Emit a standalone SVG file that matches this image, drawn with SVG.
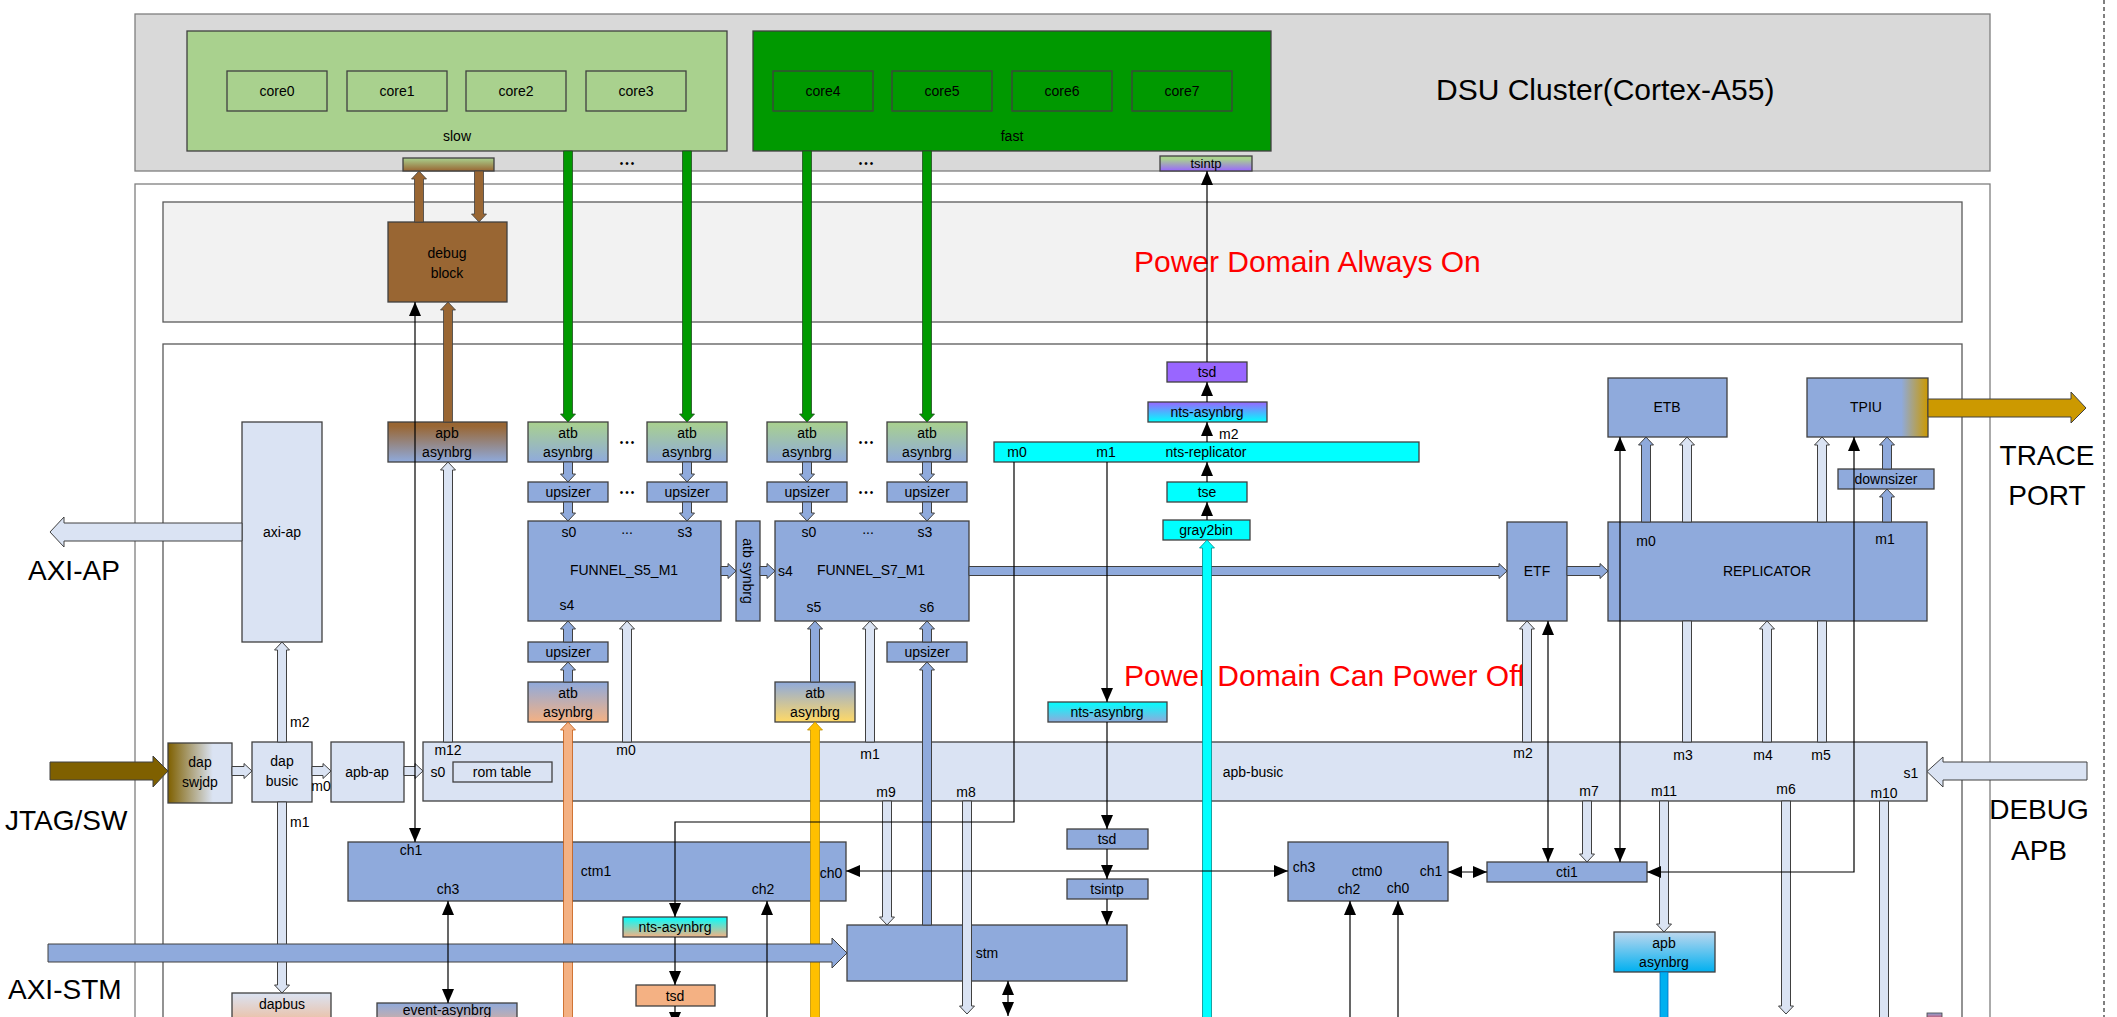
<svg xmlns="http://www.w3.org/2000/svg" width="2117" height="1017" viewBox="0 0 2117 1017">
<defs>
<linearGradient id="gDbgBar" x1="0" y1="0" x2="0" y2="1"><stop offset="0" stop-color="#a9d18e"/><stop offset="1" stop-color="#996633"/></linearGradient>
<linearGradient id="gTsTop" x1="0" y1="0" x2="0" y2="1"><stop offset="0.2" stop-color="#a9d18e"/><stop offset="1" stop-color="#9966ff"/></linearGradient>
<linearGradient id="gApbBr" x1="0" y1="0" x2="0" y2="1"><stop offset="0.1" stop-color="#996633"/><stop offset="1" stop-color="#8faadc"/></linearGradient>
<linearGradient id="gAtbG" x1="0" y1="0" x2="0" y2="1"><stop offset="0" stop-color="#a9d18e"/><stop offset="1" stop-color="#8faadc"/></linearGradient>
<linearGradient id="gNtsP" x1="0" y1="0" x2="0" y2="1"><stop offset="0" stop-color="#9966ff"/><stop offset="1" stop-color="#00ffff"/></linearGradient>
<linearGradient id="gTpiu" x1="0" y1="0" x2="1" y2="0"><stop offset="0.78" stop-color="#8faadc"/><stop offset="1" stop-color="#cc9900"/></linearGradient>
<linearGradient id="gSwj" x1="0" y1="0" x2="1" y2="0"><stop offset="0" stop-color="#7f6000"/><stop offset="0.7" stop-color="#dae3f3"/></linearGradient>
<linearGradient id="gOr" x1="0" y1="0" x2="0" y2="1"><stop offset="0" stop-color="#8faadc"/><stop offset="1" stop-color="#f4b183"/></linearGradient>
<linearGradient id="gYe" x1="0" y1="0" x2="0" y2="1"><stop offset="0" stop-color="#8faadc"/><stop offset="1" stop-color="#ffd966"/></linearGradient>
<linearGradient id="gDapbus" x1="0" y1="0" x2="0" y2="1"><stop offset="0" stop-color="#dae3f3"/><stop offset="1" stop-color="#f4b183"/></linearGradient>
<linearGradient id="gNtsCP" x1="0" y1="0" x2="0" y2="1"><stop offset="0" stop-color="#00ffff"/><stop offset="1" stop-color="#f4b183"/></linearGradient>
<linearGradient id="gNtsCB" x1="0" y1="0" x2="0" y2="1"><stop offset="0" stop-color="#00ffff"/><stop offset="1" stop-color="#8faadc"/></linearGradient>
<linearGradient id="gApbB" x1="0" y1="0" x2="0" y2="1"><stop offset="0" stop-color="#bdd7ee"/><stop offset="1" stop-color="#00b0f0"/></linearGradient>
<linearGradient id="gRed" x1="0" y1="0" x2="0" y2="1"><stop offset="0" stop-color="#8faadc"/><stop offset="1" stop-color="#ff0000"/></linearGradient>
<marker id="ah" viewBox="0 0 14 12" refX="14" refY="6" markerWidth="14" markerHeight="12" markerUnits="userSpaceOnUse" orient="auto-start-reverse"><path d="M0,0 L14,6 L0,12 z" fill="#000"/></marker>
</defs>
<style>
text{font-family:"Liberation Sans",Arial,sans-serif;font-size:14px;fill:#000}
.c{text-anchor:middle}
.big{font-size:28px}
.red{font-size:30px;fill:#ff0000}
.dots{font-size:10px;letter-spacing:2px;text-anchor:middle}
.box{stroke:#404040;stroke-width:1.3}
.mb{fill:#8faadc}
.lb{fill:#dae3f3}
.cy{fill:#00ffff}
.ln{stroke:#000;stroke-width:1.2;fill:none}
.m2{marker-end:url(#ah)}
.m3{marker-start:url(#ah);marker-end:url(#ah)}
.ha{fill:#dae3f3;stroke:#404040;stroke-width:1}
.ba{fill:#8faadc;stroke:#404040;stroke-width:1}
.ga{fill:#009900;stroke:#1f4e1f;stroke-width:0.8}
.bra{fill:#996633;stroke:#404040;stroke-width:0.8}
</style>
<rect width="2117" height="1017" fill="#fff"/>

<g id="domains">
<rect x="135" y="14" width="1855" height="157" fill="#d9d9d9" stroke="#7f7f7f" stroke-width="1.3"/>
<text x="1436" y="100" style="font-size:30px">DSU Cluster(Cortex-A55)</text>
<rect x="135" y="184" width="1855" height="850" fill="#fff" stroke="#7f7f7f" stroke-width="1.3"/>
<rect x="163" y="202" width="1799" height="120" fill="#f2f2f2" stroke="#595959" stroke-width="1.3"/>
<text x="1134" y="272" class="red">Power Domain Always On</text>
<rect x="163" y="344" width="1799" height="690" fill="#fff" stroke="#595959" stroke-width="1.3"/>
<text x="1124" y="686" class="red">Power Domain Can Power Off</text>
<line x1="2104" y1="0" x2="2104" y2="1017" stroke="#000" stroke-width="1" stroke-dasharray="4,3"/>
<text x="28" y="580" class="big">AXI-AP</text>
<text x="5" y="830" class="big">JTAG/SW</text>
<text x="8" y="999" class="big">AXI-STM</text>
<text x="2047" y="465" class="big c">TRACE</text>
<text x="2047" y="505" class="big c">PORT</text>
<text x="2039" y="819" class="big c">DEBUG</text>
<text x="2039" y="860" class="big c">APB</text>
</g>

<g id="cluster-slow">
<rect x="187" y="31" width="540" height="120" fill="#a9d18e" class="box"/>
<text x="457" y="141" class="c">slow</text>
</g>
<g id="core0"><rect x="227" y="71" width="100" height="40" fill="#a9d18e" class="box"/><text x="277" y="96" class="c">core0</text></g>
<g id="core1"><rect x="347" y="71" width="100" height="40" fill="#a9d18e" class="box"/><text x="397" y="96" class="c">core1</text></g>
<g id="core2"><rect x="466" y="71" width="100" height="40" fill="#a9d18e" class="box"/><text x="516" y="96" class="c">core2</text></g>
<g id="core3"><rect x="586" y="71" width="100" height="40" fill="#a9d18e" class="box"/><text x="636" y="96" class="c">core3</text></g>
<g id="cluster-fast">
<rect x="753" y="31" width="518" height="120" fill="#009900" class="box"/>
<text x="1012" y="141" class="c">fast</text>
</g>
<g id="core4"><rect x="773" y="71" width="100" height="40" fill="#009900" class="box"/><text x="823" y="96" class="c">core4</text></g>
<g id="core5"><rect x="892" y="71" width="100" height="40" fill="#009900" class="box"/><text x="942" y="96" class="c">core5</text></g>
<g id="core6"><rect x="1012" y="71" width="100" height="40" fill="#009900" class="box"/><text x="1062" y="96" class="c">core6</text></g>
<g id="core7"><rect x="1132" y="71" width="100" height="40" fill="#009900" class="box"/><text x="1182" y="96" class="c">core7</text></g>
<g id="dbg-port"><rect x="403" y="158" width="91" height="13" fill="url(#gDbgBar)" class="box"/></g>
<g id="tsintp-top"><rect x="1160" y="156" width="92" height="15" fill="url(#gTsTop)" class="box"/><text x="1206" y="168" class="c" style="font-size:13px">tsintp</text></g>

<g id="debug-block"><rect x="388" y="222" width="119" height="80" fill="#996633" class="box"/><text x="447" y="258" class="c">debug</text><text x="447" y="278" class="c">block</text></g>

<g id="apb-asynbrg-top"><rect x="388" y="422" width="119" height="40" fill="url(#gApbBr)" class="box"/><text x="447" y="438" class="c">apb</text><text x="447" y="457" class="c">asynbrg</text></g>
<g id="atb-asynbrg-0"><rect x="528" y="422" width="80" height="40" fill="url(#gAtbG)" class="box"/><text x="568" y="438" class="c">atb</text><text x="568" y="457" class="c">asynbrg</text></g>
<g id="atb-asynbrg-3"><rect x="647" y="422" width="80" height="40" fill="url(#gAtbG)" class="box"/><text x="687" y="438" class="c">atb</text><text x="687" y="457" class="c">asynbrg</text></g>
<g id="atb-asynbrg-4"><rect x="767" y="422" width="80" height="40" fill="url(#gAtbG)" class="box"/><text x="807" y="438" class="c">atb</text><text x="807" y="457" class="c">asynbrg</text></g>
<g id="atb-asynbrg-7"><rect x="887" y="422" width="80" height="40" fill="url(#gAtbG)" class="box"/><text x="927" y="438" class="c">atb</text><text x="927" y="457" class="c">asynbrg</text></g>
<g id="upsizer-0"><rect x="528" y="482" width="80" height="20" class="box mb"/><text x="568" y="497" class="c">upsizer</text></g>
<g id="upsizer-3"><rect x="647" y="482" width="80" height="20" class="box mb"/><text x="687" y="497" class="c">upsizer</text></g>
<g id="upsizer-4"><rect x="767" y="482" width="80" height="20" class="box mb"/><text x="807" y="497" class="c">upsizer</text></g>
<g id="upsizer-7"><rect x="887" y="482" width="80" height="20" class="box mb"/><text x="927" y="497" class="c">upsizer</text></g>
<g id="dots">
<text x="628" y="167" class="dots">•••</text><text x="867" y="167" class="dots">•••</text>
<text x="628" y="446" class="dots">•••</text><text x="867" y="446" class="dots">•••</text>
<text x="628" y="496" class="dots">•••</text><text x="867" y="496" class="dots">•••</text>
</g>

<g id="funnel-s5-m1"><rect x="528" y="521" width="193" height="100" class="box mb"/>
<text x="624" y="575" class="c">FUNNEL_S5_M1</text><text x="569" y="537" class="c">s0</text><text x="627" y="534" class="c">...</text><text x="685" y="537" class="c">s3</text><text x="567" y="610" class="c">s4</text></g>
<g id="atb-synbrg"><rect x="736" y="521" width="24" height="100" class="box mb"/><text transform="translate(748,571) rotate(90)" class="c" dy="5">atb synbrg</text></g>
<g id="funnel-s7-m1"><rect x="775" y="521" width="194" height="100" class="box mb"/>
<text x="871" y="575" class="c">FUNNEL_S7_M1</text><text x="809" y="537" class="c">s0</text><text x="868" y="534" class="c">...</text><text x="925" y="537" class="c">s3</text><text x="778" y="576">s4</text><text x="814" y="612" class="c">s5</text><text x="927" y="612" class="c">s6</text></g>
<g id="upsizer-s4"><rect x="528" y="642" width="80" height="20" class="box mb"/><text x="568" y="657" class="c">upsizer</text></g>
<g id="upsizer-s6"><rect x="887" y="642" width="80" height="20" class="box mb"/><text x="927" y="657" class="c">upsizer</text></g>
<g id="atb-asynbrg-orange"><rect x="528" y="682" width="80" height="40" fill="url(#gOr)" class="box"/><text x="568" y="698" class="c">atb</text><text x="568" y="717" class="c">asynbrg</text></g>
<g id="atb-asynbrg-yellow"><rect x="775" y="682" width="80" height="40" fill="url(#gYe)" class="box"/><text x="815" y="698" class="c">atb</text><text x="815" y="717" class="c">asynbrg</text></g>

<g id="tsd-top"><rect x="1167" y="362" width="80" height="20" fill="#9966ff" class="box"/><text x="1207" y="377" class="c">tsd</text></g>
<g id="nts-asynbrg-top"><rect x="1148" y="402" width="119" height="20" fill="url(#gNtsP)" class="box"/><text x="1207" y="417" class="c">nts-asynbrg</text></g>
<g id="nts-replicator"><rect x="994" y="442" width="425" height="20" class="box cy"/><text x="1017" y="457" class="c">m0</text><text x="1106" y="457" class="c">m1</text><text x="1206" y="457" class="c">nts-replicator</text><text x="1219" y="439">m2</text></g>
<g id="tse"><rect x="1167" y="482" width="80" height="20" class="box cy"/><text x="1207" y="497" class="c">tse</text></g>
<g id="gray2bin"><rect x="1163" y="520" width="87" height="20" class="box cy"/><text x="1206" y="535" class="c">gray2bin</text></g>

<g id="etf"><rect x="1507" y="522" width="60" height="99" class="box mb"/><text x="1537" y="576" class="c">ETF</text></g>
<g id="etb"><rect x="1608" y="378" width="119" height="59" class="box mb"/><text x="1667" y="412" class="c">ETB</text></g>
<g id="tpiu"><rect x="1807" y="378" width="121" height="59" fill="url(#gTpiu)" class="box"/><text x="1866" y="412" class="c">TPIU</text></g>
<g id="downsizer"><rect x="1838" y="469" width="96" height="20" class="box mb"/><text x="1886" y="484" class="c">downsizer</text></g>
<g id="replicator"><rect x="1608" y="522" width="319" height="99" class="box mb"/><text x="1767" y="576" class="c">REPLICATOR</text><text x="1646" y="546" class="c">m0</text><text x="1885" y="544" class="c">m1</text></g>

<g id="axi-ap"><rect x="242" y="422" width="80" height="220" class="box lb"/><text x="282" y="537" class="c">axi-ap</text></g>
<g id="dap-swjdp"><rect x="168" y="743" width="64" height="60" fill="url(#gSwj)" class="box"/><text x="200" y="767" class="c">dap</text><text x="200" y="787" class="c">swjdp</text></g>
<g id="dap-busic"><rect x="252" y="742" width="60" height="60" class="box lb"/><text x="282" y="766" class="c">dap</text><text x="282" y="786" class="c">busic</text><text x="290" y="727">m2</text><text x="290" y="827">m1</text></g>
<g id="apb-ap"><rect x="331" y="742" width="73" height="60" class="box lb"/><text x="367" y="777" class="c">apb-ap</text></g>
<g id="dapbus"><rect x="232" y="993" width="99" height="40" fill="url(#gDapbus)" class="box"/><text x="282" y="1009" class="c">dapbus</text></g>

<g id="apb-busic"><rect x="423" y="742" width="1504" height="59" class="box lb"/>
<text x="1253" y="777" class="c">apb-busic</text>
<text x="448" y="755" class="c">m12</text><text x="438" y="777" class="c">s0</text>
<rect x="453" y="762" width="99" height="20" fill="none" class="box"/><text x="502" y="777" class="c">rom table</text>
<text x="626" y="755" class="c">m0</text><text x="870" y="759" class="c">m1</text><text x="886" y="797" class="c">m9</text><text x="966" y="797" class="c">m8</text>
<text x="1523" y="758" class="c">m2</text><text x="1683" y="760" class="c">m3</text><text x="1763" y="760" class="c">m4</text><text x="1821" y="760" class="c">m5</text>
<text x="1589" y="796" class="c">m7</text><text x="1664" y="796" class="c">m11</text><text x="1786" y="794" class="c">m6</text><text x="1884" y="798" class="c">m10</text>
<text x="1911" y="778" class="c">s1</text></g>

<g id="ctm1"><rect x="348" y="842" width="498" height="59" class="box mb"/><text x="596" y="876" class="c">ctm1</text><text x="411" y="855" class="c">ch1</text><text x="448" y="894" class="c">ch3</text><text x="763" y="894" class="c">ch2</text><text x="831" y="878" class="c">ch0</text></g>
<g id="ctm0"><rect x="1288" y="842" width="160" height="59" class="box mb"/><text x="1367" y="876" class="c">ctm0</text><text x="1304" y="872" class="c">ch3</text><text x="1349" y="894" class="c">ch2</text><text x="1398" y="893" class="c">ch0</text><text x="1431" y="876" class="c">ch1</text></g>
<g id="cti1"><rect x="1487" y="862" width="160" height="20" class="box mb"/><text x="1567" y="877" class="c">cti1</text></g>
<g id="event-asynbrg"><rect x="377" y="1003" width="140" height="30" fill="url(#gOr)" class="box"/><text x="447" y="1015" class="c">event-asynbrg</text></g>
<g id="nts-asynbrg-bl"><rect x="623" y="917" width="104" height="20" fill="url(#gNtsCP)" class="box"/><text x="675" y="932" class="c">nts-asynbrg</text></g>
<g id="tsd-bl"><rect x="636" y="985" width="79" height="21" fill="#f4b183" class="box"/><text x="675" y="1001" class="c">tsd</text></g>
<g id="nts-asynbrg-mid"><rect x="1048" y="702" width="119" height="20" fill="url(#gNtsCB)" class="box"/><text x="1107" y="717" class="c">nts-asynbrg</text></g>
<g id="tsd-mid"><rect x="1067" y="829" width="81" height="20" class="box mb"/><text x="1107" y="844" class="c">tsd</text></g>
<g id="tsintp-mid"><rect x="1067" y="879" width="81" height="20" class="box mb"/><text x="1107" y="894" class="c">tsintp</text></g>
<g id="stm"><rect x="847" y="925" width="280" height="56" class="box mb"/><text x="987" y="958" class="c">stm</text></g>
<g id="apb-asynbrg-bl"><rect x="1614" y="932" width="101" height="40" fill="url(#gApbB)" class="box"/><text x="1664" y="948" class="c">apb</text><text x="1664" y="967" class="c">asynbrg</text></g>
<g id="red-mark"><rect x="1927" y="1013" width="15" height="10" fill="url(#gRed)" stroke="#404040" stroke-width="0.8"/></g>

<g id="connectors">
<path class="bra" d="M414.5,222V179H411.5L419,171L426.5,179H423.5V222Z"/>
<path class="bra" d="M474.5,171V214H471.5L479,222L486.5,214H483.5V171Z"/>
<path class="bra" d="M443.5,422V310H440.5L448,302L455.5,310H452.5V422Z"/>
<path class="ga" d="M563.5,151V414H560.5L568,422L575.5,414H572.5V151Z"/>
<path class="ga" d="M682.5,151V414H679.5L687,422L694.5,414H691.5V151Z"/>
<path class="ga" d="M802.5,151V414H799.5L807,422L814.5,414H811.5V151Z"/>
<path class="ga" d="M922.5,151V414H919.5L927,422L934.5,414H931.5V151Z"/>
<path class="ba" d="M563.5,462V474H560.5L568,482L575.5,474H572.5V462Z"/>
<path class="ba" d="M682.5,462V474H679.5L687,482L694.5,474H691.5V462Z"/>
<path class="ba" d="M802.5,462V474H799.5L807,482L814.5,474H811.5V462Z"/>
<path class="ba" d="M922.5,462V474H919.5L927,482L934.5,474H931.5V462Z"/>
<path class="ba" d="M563.5,502V513H560.5L568,521L575.5,513H572.5V502Z"/>
<path class="ba" d="M682.5,502V513H679.5L687,521L694.5,513H691.5V502Z"/>
<path class="ba" d="M802.5,502V513H799.5L807,521L814.5,513H811.5V502Z"/>
<path class="ba" d="M922.5,502V513H919.5L927,521L934.5,513H931.5V502Z"/>
<path class="ba" d="M721,566.5H728V563.5L736,571L728,578.5V575.5H721Z"/>
<path class="ba" d="M760,566.5H767V563.5L775,571L767,578.5V575.5H760Z"/>
<path class="ba" d="M969,566.5H1499V563.5L1507,571L1499,578.5V575.5H969Z"/>
<path class="ba" d="M1567,566.5H1600V563.5L1608,571L1600,578.5V575.5H1567Z"/>
<path class="ba" d="M563.5,642V629H560.5L568,621L575.5,629H572.5V642Z"/>
<path class="ba" d="M563.5,682V670H560.5L568,662L575.5,670H572.5V682Z"/>
<path class="ba" d="M810.5,682V629H807.5L815,621L822.5,629H819.5V682Z"/>
<path class="ba" d="M922.5,642V629H919.5L927,621L934.5,629H931.5V642Z"/>
<path class="ba" d="M922.5,925V670H919.5L927,662L934.5,670H931.5V925Z"/>
<path class="ha" d="M622.5,742V629H619.5L627,621L634.5,629H631.5V742Z"/>
<path class="ha" d="M865.5,742V629H862.5L870,621L877.5,629H874.5V742Z"/>
<path d="M563.5,1030V730H560.5L568,722L575.5,730H572.5V1030Z" fill="#f4b183" stroke="#c55a11" stroke-width="0.8"/>
<path d="M810.5,1030V730H807.5L815,722L822.5,730H819.5V1030Z" fill="#ffc000" stroke="#bf9000" stroke-width="0.8"/>
<path d="M1202.5,1030V548H1199.5L1207,540L1214.5,548H1211.5V1030Z" fill="#00ffff" stroke="#008b8b" stroke-width="0.8"/>
<path d="M1660,972V1030H1668V972Z" fill="#00b0f0" stroke="#0070c0" stroke-width="0.8"/>
<path class="ha" d="M443.5,742V470H440.5L448,462L455.5,470H452.5V742Z"/>
<path class="ha" d="M277.5,742V650H274.5L282,642L289.5,650H286.5V742Z"/>
<path class="ha" d="M277.5,802V985H274.5L282,993L289.5,985H286.5V802Z"/>
<path class="ha" d="M232,766.5H244V763.5L252,771L244,778.5V775.5H232Z"/>
<path class="ha" d="M312,766.5H323V763.5L331,771L323,778.5V775.5H312Z"/>
<path class="ha" d="M404,766.5H415V763.5L423,771L415,778.5V775.5H404Z"/>
<text x="321" y="791" class="c">m0</text>
<path class="ha" d="M882.5,801V917H879.5L887,925L894.5,917H891.5V801Z"/>
<path class="ha" d="M962.5,801V1006H959.5L967,1014L974.5,1006H971.5V801Z"/>
<path class="ha" d="M1582.5,801V854H1579.5L1587,862L1594.5,854H1591.5V801Z"/>
<path class="ha" d="M1659.5,801V924H1656.5L1664,932L1671.5,924H1668.5V801Z"/>
<path class="ha" d="M1781.5,801V1006H1778.5L1786,1014L1793.5,1006H1790.5V801Z"/>
<path class="ha" d="M1879.5,801V1030H1888.5V801Z"/>
<path class="ha" d="M1522.5,742V629H1519.5L1527,621L1534.5,629H1531.5V742Z"/>
<path class="ha" d="M1682.5,742V621H1691.5V742Z"/>
<path class="ha" d="M1682.5,522V445H1679.5L1687,437L1694.5,445H1691.5V522Z"/>
<path class="ha" d="M1762.5,742V629H1759.5L1767,621L1774.5,629H1771.5V742Z"/>
<path class="ha" d="M1817.5,742V621H1826.5V742Z"/>
<path class="ha" d="M1817.5,522V445H1814.5L1822,437L1829.5,445H1826.5V522Z"/>
<path class="ba" d="M1641.5,522V445H1638.5L1646,437L1653.5,445H1650.5V522Z"/>
<path class="ba" d="M1882.5,522V497H1879.5L1887,489L1894.5,497H1891.5V522Z"/>
<path class="ba" d="M1882.5,469V445H1879.5L1887,437L1894.5,445H1891.5V469Z"/>
<path d="M1928,399H2071V392L2086,408L2071,423V417H1928Z" fill="#cc9900" stroke="#404040" stroke-width="1"/>
<path class="ha" d="M242,523H64V517L50,532L64,547V541H242Z"/>
<path d="M50,762H153V756L168,771L153,787V780H50Z" fill="#7f6000" stroke="#404040" stroke-width="1"/>
<path class="ha" d="M2087,762H1943V757L1927,771.5L1943,787V780H2087Z"/>
<path class="ba" d="M48,944H832V938L847,953L832,968V962H48Z"/>
<path class="ln m2" d="M1207,362V171"/>
<path class="ln m2" d="M1207,402V382"/>
<path class="ln m2" d="M1207,442V422"/>
<path class="ln m2" d="M1207,482V462"/>
<path class="ln m2" d="M1207,520V502"/>
<path class="ln m3" d="M415,302V842"/>
<path class="ln m2" d="M1014,462V822H675V917"/>
<path class="ln m2" d="M675,937V985"/>
<path class="ln m2" d="M675,1006V1026"/>
<path class="ln m2" d="M1107,462V702"/>
<path class="ln m2" d="M1107,722V829"/>
<path class="ln m2" d="M1107,849V879"/>
<path class="ln m2" d="M1107,899V925"/>
<path class="ln m3" d="M846,871H1288"/>
<path class="ln m3" d="M1448,872H1487"/>
<path class="ln m3" d="M1548,621V862"/>
<path class="ln m3" d="M1620,437V862"/>
<path class="ln m3" d="M1854,437V872H1647"/>
<path class="ln m3" d="M448,901V1003"/>
<path class="ln m2" d="M767,1030V901"/>
<path class="ln m2" d="M1350,1030V901"/>
<path class="ln m2" d="M1398,1030V901"/>
<path class="ln m3" d="M1008,981V1016"/>
</g>
</svg>
